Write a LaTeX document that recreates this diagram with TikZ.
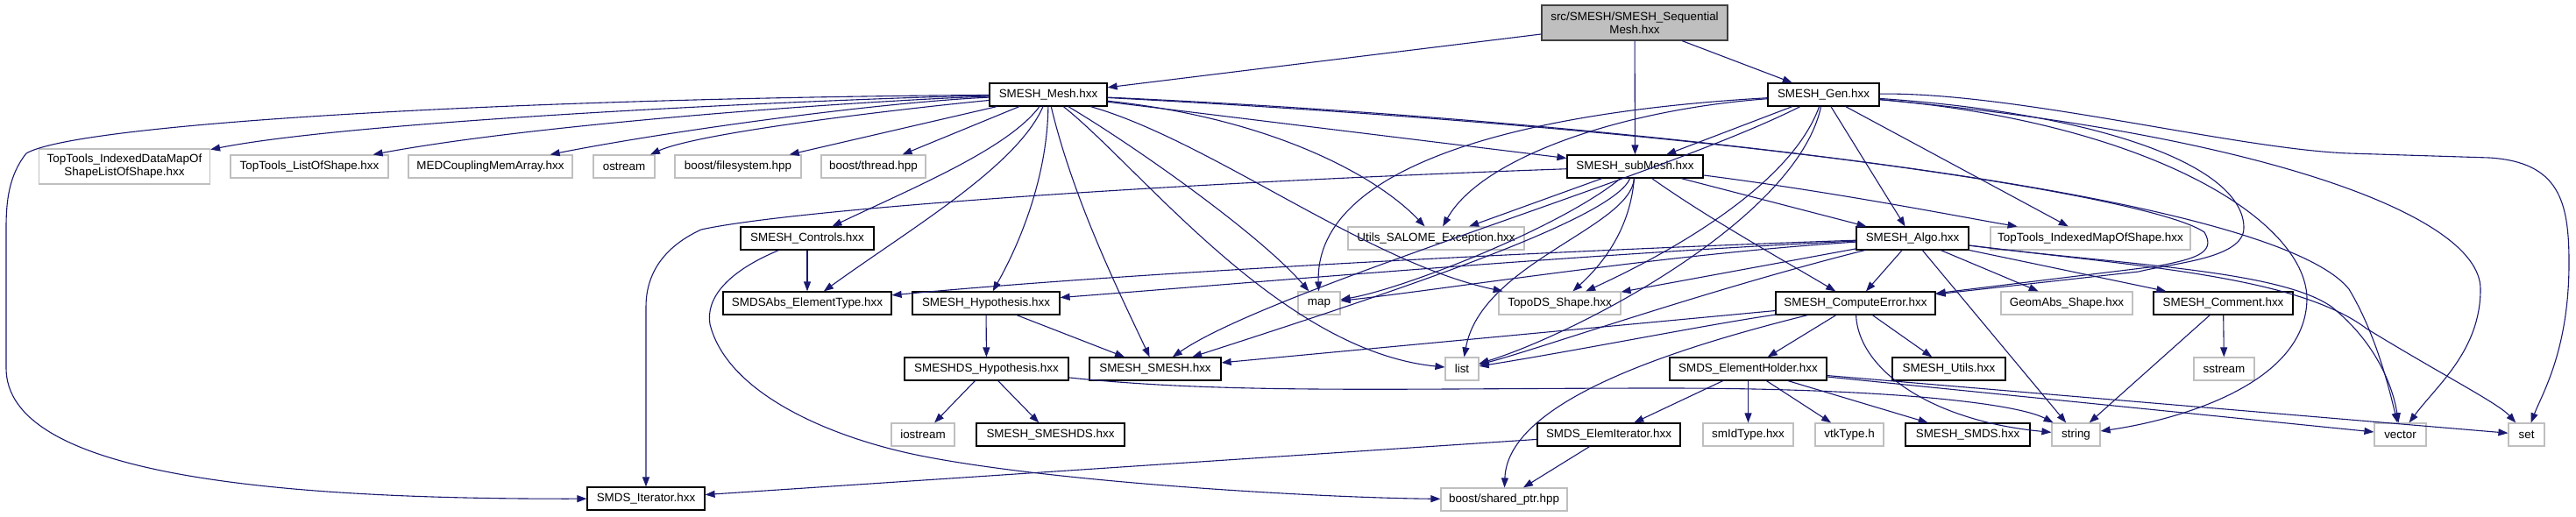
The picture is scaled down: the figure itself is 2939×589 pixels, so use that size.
\documentclass[tikz,border=0pt]{standalone}
\usepackage{fontspec}
\setmainfont{Liberation Sans}
\usetikzlibrary{arrows.meta,calc}
\definecolor{edgec}{HTML}{191970}
\definecolor{extc}{HTML}{BFBFBF}
\definecolor{topfill}{HTML}{BFBFBF}
\begin{document}
\begin{tikzpicture}[x=1pt,y=-1pt,
  base/.style={line width=1.2pt, minimum height=26pt, inner sep=0pt, fill=white,
    font=\fontsize{13.4pt}{15pt}\selectfont, align=center},
  int/.style={base, draw=black},
  ext/.style={base, draw=extc},
  topn/.style={base, draw=black!75, fill=topfill},
  e/.style={draw=edgec, line width=1.1pt, -{Triangle[length=11pt,width=8pt]}}]
\useasboundingbox (0,0) rectangle (2939,589);
% nodes
\node[topn, minimum width=212pt, minimum height=40pt] (top) at (1865,26) {src/SMESH/SMESH\_Sequential\\Mesh.hxx};
\node[int, minimum width=134pt] (mesh) at (1196,108) {SMESH\_Mesh.hxx};
\node[int, minimum width=127pt] (gen) at (2080.5,108) {SMESH\_Gen.hxx};
\node[ext, minimum width=195pt, minimum height=40pt] (tdm) at (142,190) {TopTools\_IndexedDataMapOf\\ShapeListOfShape.hxx};
\node[ext, minimum width=180pt] (tls) at (353,190) {TopTools\_ListOfShape.hxx};
\node[ext, minimum width=187pt] (med) at (559.5,190) {MEDCouplingMemArray.hxx};
\node[ext, minimum width=70pt] (ost) at (712,190) {ostream};
\node[ext, minimum width=144pt] (bfs) at (842,190) {boost/filesystem.hpp};
\node[ext, minimum width=119pt] (bth) at (996.5,190) {boost/thread.hpp};
\node[int, minimum width=155pt] (sub) at (1865.5,190) {SMESH\_subMesh.hxx};
\node[int, minimum width=152pt] (ctrl) at (921,272) {SMESH\_Controls.hxx};
\node[ext, minimum width=201pt] (uex) at (1638.5,272) {Utils\_SALOME\_Exception.hxx};
\node[int, minimum width=128pt] (algo) at (2182,272) {SMESH\_Algo.hxx};
\node[ext, minimum width=228pt] (tims) at (2385,272) {TopTools\_IndexedMapOfShape.hxx};
\node[int, minimum width=192pt] (sabs) at (921,346) {SMDSAbs\_ElementType.hxx};
\node[int, minimum width=168pt] (hyp) at (1125,346) {SMESH\_Hypothesis.hxx};
\node[ext, minimum width=48pt] (nmap) at (1505,346) {map};
\node[ext, minimum width=139pt] (tds) at (1779.5,346) {TopoDS\_Shape.hxx};
\node[int, minimum width=182pt] (cerr) at (2117,346) {SMESH\_ComputeError.hxx};
\node[ext, minimum width=150pt] (gas) at (2358,346) {GeomAbs\_Shape.hxx};
\node[int, minimum width=159pt] (cmt) at (2536.5,346) {SMESH\_Comment.hxx};
\node[int, minimum width=187pt] (dhyp) at (1125.5,421) {SMESHDS\_Hypothesis.hxx};
\node[int, minimum width=150pt] (smesh) at (1318,421) {SMESH\_SMESH.hxx};
\node[ext, minimum width=38pt] (nlist) at (1668,421) {list};
\node[int, minimum width=179pt] (eh) at (1994.5,421) {SMDS\_ElementHolder.hxx};
\node[int, minimum width=129pt] (sut) at (2223.5,421) {SMESH\_Utils.hxx};
\node[ext, minimum width=69pt] (sst) at (2537.5,421) {sstream};
\node[ext, minimum width=72pt] (ios) at (1053,496) {iostream};
\node[int, minimum width=169pt] (sds) at (1198.5,496) {SMESH\_SMESHDS.hxx};
\node[int, minimum width=163pt] (eit) at (1835.5,496) {SMDS\_ElemIterator.hxx};
\node[ext, minimum width=103pt] (sid) at (1994.5,496) {smIdType.hxx};
\node[ext, minimum width=78pt] (vtk) at (2110,496) {vtkType.h};
\node[int, minimum width=142pt] (smds) at (2245,496) {SMESH\_SMDS.hxx};
\node[ext, minimum width=55pt] (str) at (2368.5,496) {string};
\node[ext, minimum width=59pt] (vec) at (2738.5,496) {vector};
\node[ext, minimum width=41pt] (nset) at (2882.5,496) {set};
\node[int, minimum width=134pt] (iter) at (737,569) {SMDS\_Iterator.hxx};
\node[ext, minimum width=144pt] (sptr) at (1716,570) {boost/shared\_ptr.hpp};
% edges from top
\draw[e] (top) -- (mesh);
\draw[e] (top) -- (sub);
\draw[e] (top) -- (gen);
% edges from SMESH_Mesh
\draw[e] (mesh) .. controls (1000,111) and (420,135) .. (tdm);
\draw[e] (mesh) .. controls (1000,114) and (620,140) .. (tls);
\draw[e] (mesh) .. controls (1000,117) and (760,150) .. (med);
\draw[e] (mesh) .. controls (1050,122) and (800,150) .. (ost);
\draw[e] (mesh) -- (bfs);
\draw[e] (mesh) -- (bth);
\draw[e] (mesh) .. controls (1150,170) and (1040,215) .. (ctrl);
\draw[e] (mesh) .. controls (1160,190) and (1040,260) .. (sabs);
\draw[e] (mesh) .. controls (1195,200) and (1165,275) .. (hyp);
\draw[e] (mesh) .. controls (1225,230) and (1280,340) .. (smesh);
\draw[e] (mesh) .. controls (1300,190) and (1460,400) .. (nlist);
\draw[e] (mesh) .. controls (1300,170) and (1440,270) .. (nmap);
\draw[e] (mesh) .. controls (1380,160) and (1560,300) .. (tds);
\draw[e] (mesh) .. controls (1450,135) and (1570,200) .. (uex);
\draw[e] (mesh) -- (sub);
\draw[e] (mesh) .. controls (1900,140) and (2450,220) .. (2515,265) .. controls (2530,290) and (2500,296) .. (2460,304) -- (cerr);
\draw[e] (mesh) .. controls (2000,150) and (2600,230) .. (2680,330) .. controls (2710,380) and (2725,440) .. (vec);
\draw[e] (mesh) .. controls (600,112) and (90,140) .. (30,175) .. controls (10,200) and (7,230) .. (7,260) -- (7,420) .. controls (7,540) and (300,570) .. (iter);
% edges from SMESH_subMesh
\draw[e] (sub) .. controls (1300,210) and (900,240) .. (800,262) .. controls (750,285) and (737,320) .. (737,350) -- (iter);
\draw[e] (sub) -- (uex);
\draw[e] (sub) .. controls (1780,260) and (1600,330) .. (nmap);
\draw[e] (sub) .. controls (1840,250) and (1600,330) .. (smesh);
\draw[e] (sub) .. controls (1860,260) and (1690,300) .. (nlist);
\draw[e] (sub) .. controls (1860,260) and (1830,300) .. (tds);
\draw[e] (sub) .. controls (1950,250) and (2040,300) .. (cerr);
\draw[e] (sub) -- (algo);
\draw[e] (sub) .. controls (2100,220) and (2250,250) .. (tims);
% edges from SMESH_Gen
\draw[e] (gen) -- (sub);
\draw[e] (gen) .. controls (1850,125) and (1690,180) .. (uex);
\draw[e] (gen) .. controls (1700,130) and (1500,200) .. (nmap);
\draw[e] (gen) .. controls (1900,200) and (1450,330) .. (smesh);
\draw[e] (gen) .. controls (2040,220) and (1880,300) .. (tds);
\draw[e] (gen) .. controls (2050,250) and (1800,380) .. (nlist);
\draw[e] (gen) -- (algo);
\draw[e] (gen) -- (tims);
\draw[e] (gen) .. controls (2400,130) and (2560,190) .. (2560,260) .. controls (2560,295) and (2480,300) .. (2440,310) -- (cerr);
\draw[e] (gen) .. controls (2450,140) and (2630,250) .. (2632,340) .. controls (2632,440) and (2480,480) .. (str);
\draw[e] (gen) .. controls (2550,150) and (2830,240) .. (2830,330) .. controls (2830,400) and (2780,440) .. (vec);
\draw[e] (gen) .. controls (2300,105) and (2550,170) .. (2680,175) -- (2840,180) .. controls (2920,185) and (2931,230) .. (2931,300) .. controls (2931,400) and (2900,450) .. (nset);
% edges from SMESH_Algo
\draw[e] (algo) .. controls (1800,285) and (1300,310) .. (sabs);
\draw[e] (algo) .. controls (1800,290) and (1400,325) .. (hyp);
\draw[e] (algo) .. controls (1900,290) and (1650,330) .. (nmap);
\draw[e] (algo) -- (tds);
\draw[e] (algo) .. controls (1950,330) and (1750,400) .. (nlist);
\draw[e] (algo) -- (cerr);
\draw[e] (algo) -- (str);
\draw[e] (algo) -- (gas);
\draw[e] (algo) -- (cmt);
\draw[e] (algo) .. controls (2420,302) and (2600,308) .. (2660,350) .. controls (2710,390) and (2730,440) .. (vec);
\draw[e] (algo) .. controls (2440,304) and (2620,315) .. (2700,375) .. controls (2790,430) and (2850,460) .. (nset);
% SMESH_Controls
\draw[e] (ctrl) -- (sabs);
\draw[e] (ctrl) .. controls (830,310) and (805,340) .. (810,370) .. controls (830,450) and (950,500) .. (1050,520) .. controls (1200,550) and (1500,568) .. (sptr);
% SMESH_Hypothesis
\draw[e] (hyp) -- (dhyp);
\draw[e] (hyp) -- (smesh);
% SMESHDS_Hypothesis
\draw[e] (dhyp) -- (ios);
\draw[e] (dhyp) -- (sds);
\draw[e] (dhyp) .. controls (1400,450) and (1600,443) .. (1900,443) .. controls (2150,443) and (2300,460) .. (str);
% SMESH_ComputeError
\draw[e] (cerr) -- (eh);
\draw[e] (cerr) -- (sut);
\draw[e] (cerr) .. controls (2120,420) and (2200,480) .. (str);
\draw[e] (cerr) .. controls (1950,370) and (1800,400) .. (nlist);
\draw[e] (cerr) -- (smesh);
\draw[e] (cerr) .. controls (1900,400) and (1720,460) .. (sptr);
% SMESH_Comment
\draw[e] (cmt) -- (str);
\draw[e] (cmt) -- (sst);
% SMDS_ElementHolder
\draw[e] (eh) -- (eit);
\draw[e] (eh) -- (sid);
\draw[e] (eh) -- (vtk);
\draw[e] (eh) -- (smds);
\draw[e] (eh) -- (vec);
\draw[e] (eh) -- (nset);
% SMDS_ElemIterator
\draw[e] (eit) -- (iter);
\draw[e] (eit) -- (sptr);
\end{tikzpicture}
\end{document}
